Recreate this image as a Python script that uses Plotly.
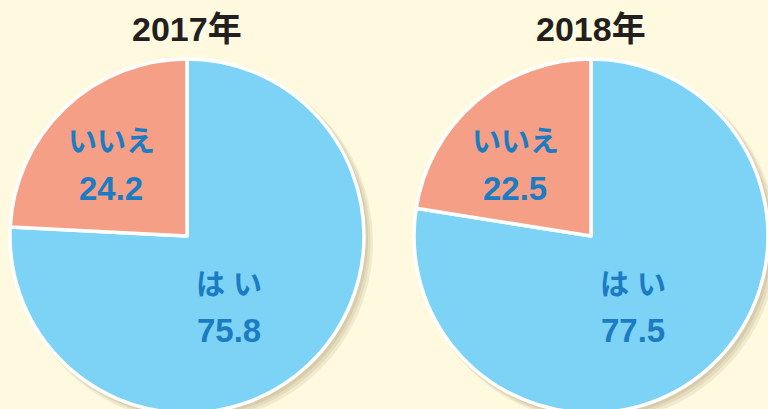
import plotly.graph_objects as go

# Data
years = ["2017年", "2018年"]
labels = ["はい", "いいえ"]
values_2017 = [75.8, 24.2]
values_2018 = [77.5, 22.5]
all_values = [values_2017, values_2018]

W, H = 768, 430
BG = "#FFFADF"
BLUE = "#7DD3F5"
SALMON = "#F5A086"
TXT = "#1B7BC3"
FONT = "Liberation Sans, Noto Sans CJK JP, sans-serif"

centers = [(187, 236), (591, 236)]
R = 177

fig = go.Figure()
shapes = []
annotations = []

def px_x(x):
    return x / W

def px_y(y):
    return 1 - y / H

for i, (year, vals) in enumerate(zip(years, all_values)):
    cx, cy = centers[i]
    fig.add_trace(go.Pie(
        labels=labels,
        values=vals,
        sort=False,
        direction="clockwise",
        rotation=0,
        textinfo="none",
        hoverinfo="label+value",
        marker=dict(colors=[BLUE, SALMON], line=dict(color="white", width=3.5)),
        domain=dict(x=[px_x(cx - R), min(1, px_x(cx + R))],
                    y=[px_y(cy + R), px_y(cy - R)]),
        showlegend=False,
    ))
    # soft drop shadow
    for k, a in enumerate([0.10, 0.10, 0.12]):
        off = 6 - k * 1.5
        rr = R + 3 - k
        shapes.append(dict(type="circle", xref="paper", yref="paper", layer="below",
                           x0=px_x(cx + off - rr), x1=px_x(cx + off + rr),
                           y0=px_y(cy + off + rr), y1=px_y(cy + off - rr),
                           fillcolor=f"rgba(120,100,50,{a})", line=dict(width=0)))
    # title
    annotations.append(dict(text=f"<b>{year}</b>", x=px_x(cx), y=px_y(29), xref="paper", yref="paper",
                            showarrow=False, xanchor="center", yanchor="middle",
                            font=dict(family=FONT, size=34, color="#231F20")))
    # slice labels
    pos = {"はい": (cx + 42, 285, 330), "いいえ": (cx - 76, 142, 188)}
    for lab, v in zip(labels, vals):
        lx, ly1, ly2 = pos[lab]
        shown = " ".join(list(lab)) if lab == "はい" else lab
        annotations.append(dict(text=f"<b>{shown}</b>", x=px_x(lx), y=px_y(ly1), xref="paper", yref="paper",
                                showarrow=False, xanchor="center", yanchor="middle",
                                font=dict(family=FONT, size=29, color=TXT)))
        annotations.append(dict(text=f"<b>{v:.1f}</b>", x=px_x(lx), y=px_y(ly2), xref="paper", yref="paper",
                                showarrow=False, xanchor="center", yanchor="middle",
                                font=dict(family=FONT, size=33, color=TXT)))

fig.update_layout(
    width=W, height=H,
    margin=dict(l=0, r=0, t=0, b=0),
    paper_bgcolor=BG, plot_bgcolor=BG,
    shapes=shapes, annotations=annotations,
)

fig.write_html("out.html",
               post_script="document.body.style.margin='0';document.body.style.overflow='hidden';document.documentElement.style.overflow='hidden';")
